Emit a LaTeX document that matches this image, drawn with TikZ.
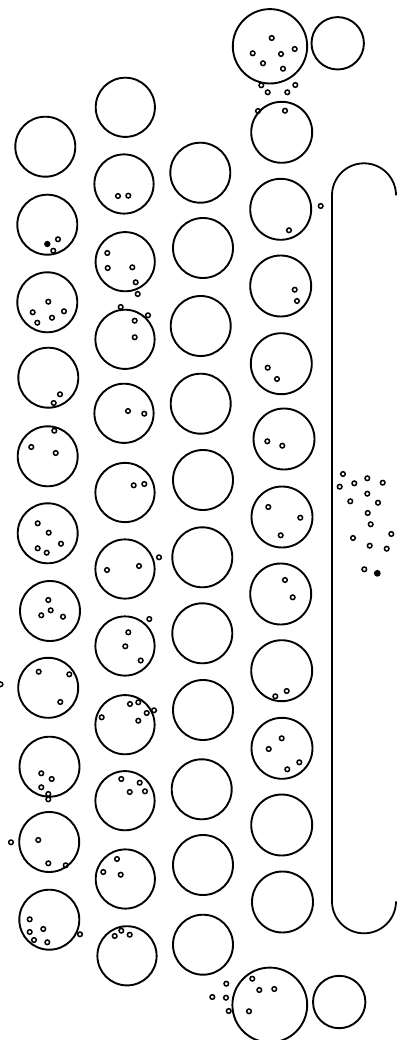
\documentclass[tikz,border=0pt]{standalone}
\begin{document}
\begin{tikzpicture}[x=1pt,y=-1pt,
  cell/.style={line width=1.9pt},
  ring/.style={line width=1.5pt},
  track/.style={line width=1.8pt}]
\clip (0,0) rectangle (397,1040);
\fill[white] (0,0) rectangle (397,1040);
% column A
\foreach \x/\y in {45.3/146.7,47.3/224.7,47.3/302.3,48.3/377.7,47.7/456.3,47.7/533.3,50/611,48.2/687.8,49.5/766.7,49.2/842,49.3/919.7}
  \draw[cell] (\x,\y) circle (30);
% column B
\foreach \x/\y in {125.3/107.3,124/184,125.2/261.7,125/339.3,124/413.3,125/492.5,125/569,125/646,125/724.7,125/800.7,125.3/879,127/955.8}
  \draw[cell] (\x,\y) circle (29.6);
% column C
\foreach \x/\y in {200.3/172.7,203/248,200.7/326,200.7/403.7,203/480,202.3/557.3,202.3/633.3,203/710,201.7/789.3,203/865,203/944.7}
  \draw[cell] (\x,\y) circle (30);
% column D
\foreach \x/\y in {281.7/132.3,280.7/209.3,280.7/286,281.3/363.7,284/439,282/517,280.7/594,281.7/670.7,282/748.3,281.7/825,282.5/902}
  \draw[cell] (\x,\y) circle (30.5);
% top and bottom pairs
\draw[cell] (270,46.3) circle (37.2);
\draw[cell] (337.7,43.3) circle (26.2);
\draw[cell] (269.8,1005) circle (37.4);
\draw[cell] (339.2,1002) circle (26.2);
% racetrack
\draw[track] (396,195.3) arc[start angle=0,end angle=-180,radius=32] -- (332,901.3) arc[start angle=180,end angle=0,radius=32];
% ring dots
\foreach \x/\y in {
 271.7/38,252.7/53.3,281/54,294.7/49,263/63.3,283/68.7,261.3/85.3,267.7/92.3,287.3/92.3,295.3/85,258/111,285/110.7,
 289/230.3,320.7/206,294.7/289.7,297/301,267.7/367.7,277/379,267.3/441.3,282.3/445.7,
 268.3/507,300.3/517.7,280.7/535.3,285/580,292.7/597.3,275.3/696.3,286.7/691,
 281.7/738.3,268.7/749,299.3/762.3,287.3/769.3,
 343/474,339.7/486.7,354.3/483.3,367.3/478.3,382.7/482.7,367.3/493.7,350.3/501.3,378/502.7,367.7/513,370.7/524.3,391.3/534,353/538,369.7/545.7,386.7/548.7,364.3/569.3,
 252.3/978.7,259.3/990,274.3/989,249/1011.3,226.3/983.7,212.3/997,226/997.7,228.7/1011,
 58/239.3,53.3/250.7,
 48.3/301.7,32.7/312.3,64/311.3,52/317.7,37.3/322.7,
 60/394.3,53.7/403,
 54.3/430.7,31.3/447,55.7/453,
 37.7/523.3,48.7/532.7,61/543.7,37.7/548.3,46.7/552.7,
 48.3/600,50.7/610.3,41.3/615.3,63/616.7,
 38.7/671.7,69.3/674.3,60.3/702,0.5/684.3,
 41.3/773.3,51.7/779,41.3/787.3,48.3/794,48.3/799.3,
 11/842.3,38.3/840,48.3/863.3,65.7/865.3,
 29.7/919.3,29.7/932,43.3/929,34/940,47.3/942.3,80/934.3,
 118/196,128.3/195.7,
 107.3/253,107.7/268,132.3/267.3,135.7/282.3,137.7/294,
 120.7/307,148/315.3,134.7/320.7,134.7/337.3,
 128/411,144.3/413.7,
 133.7/485.3,144.3/484,
 107/570,139/566,159/557.3,
 149.3/619,128.3/632.3,125.3/646.3,140.7/660.5,
 101.7/717.3,130/704,138.3/702.3,146.7/713,154/710.3,138.3/720.7,
 121.3/779,139.7/782.7,129.7/792,145/791.3,
 117/859,103.3/872,120.7/874.7,
 114.7/936,121.3/930.7,129.7/934.7}
  \draw[ring] (\x,\y) circle (2.3);
% filled dots
\fill (47.3,244) circle (3.2);
\fill (377.3,573.3) circle (3.4);
\end{tikzpicture}
\end{document}
